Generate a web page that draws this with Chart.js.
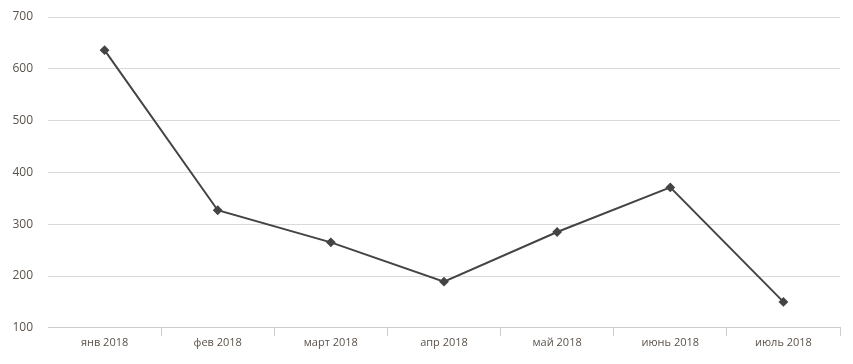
<!DOCTYPE html>
<html lang="ru">
<head>
    <meta charset="UTF-8">
    <title>2018</title>
    <script src="https://cdn.jsdelivr.net/npm/chart.js"></script>
    <style>
        body { margin: 0; background: #fff; }
        .card { width: 853px; height: 364px; }
    </style>
</head>
<body>
    <div class="card">
        <canvas id="myChart"></canvas>
    </div>

    <script>
        const months = ['янв 2018', 'фев 2018', 'март 2018', 'апр 2018', 'май 2018', 'июнь 2018', 'июль 2018'];
        const values = [636, 327, 265, 189, 285, 371, 150];
        const yMin = 100;
        const yMax = 700;

        const textColor = '#5b534a';

        const config = {
            type: 'line',
            data: {
                labels: months,
                datasets: [{
                    data: values,
                    borderColor: '#444444',
                    backgroundColor: '#444444',
                    borderWidth: 2,
                    pointStyle: 'rectRot',
                    pointRadius: 3.5,
                    pointHoverRadius: 5,
                    tension: 0,
                    fill: false
                }]
            },
            options: {
                responsive: true,
                maintainAspectRatio: false,
                animation: false,
                layout: { padding: { top: 17, right: 13, left: 0, bottom: 15 } },
                plugins: {
                    legend: { display: false },
                    tooltip: { enabled: false }
                },
                scales: {
                    x: {
                        offset: true,
                        grid: {
                            offset: true,
                            drawOnChartArea: false,
                            tickLength: 8,
                            color: '#cccccc',
                            // no tick mark at the left edge
                            tickColor: (c) => c.index === 0 ? 'rgba(0,0,0,0)' : '#cccccc'
                        },
                        border: { color: '#cccccc' },
                        ticks: {
                            color: textColor,
                            font: { family: 'Open Sans', size: 11 },
                            padding: 0
                        }
                    },
                    y: {
                        min: yMin,
                        max: yMax,
                        afterFit: (scale) => {
                            // keep the label gap from pushing the plot down
                            scale.width = 48;
                            scale.paddingTop = 0;
                            scale.paddingBottom = 0;
                        },
                        grid: {
                            color: '#dcdad6',
                            drawTicks: false
                        },
                        border: { display: false },
                        ticks: {
                            stepSize: 100,
                            color: textColor,
                            font: { family: 'Open Sans', size: 12 },
                            padding: 15
                        }
                    }
                }
            }
        };

        const ctx = document.getElementById('myChart').getContext('2d');
        const myChart = new Chart(ctx, config);
    </script>
</body>
</html>
